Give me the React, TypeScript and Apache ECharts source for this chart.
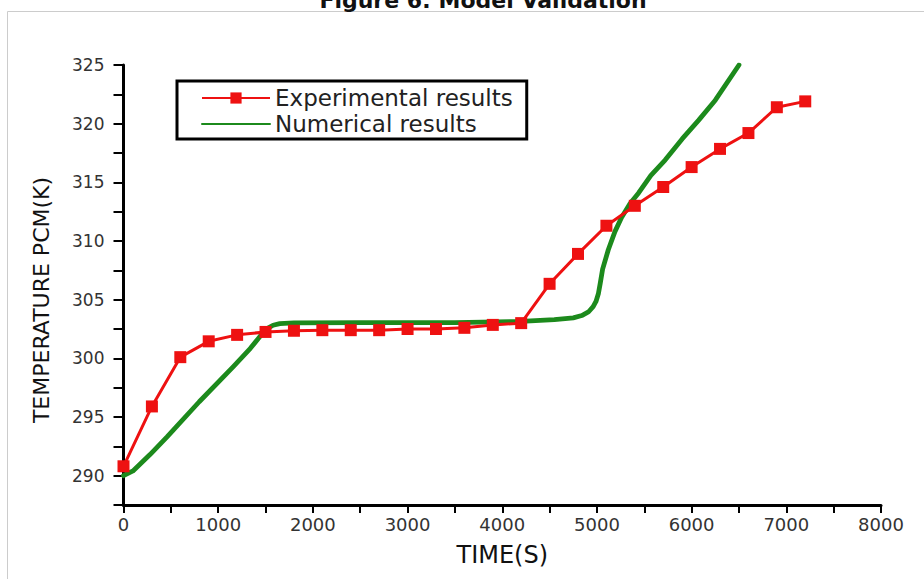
import React, { useEffect, useRef } from "react";
import * as echarts from "echarts";

const TITLE = "Figure 6: Model Validation";
const X_NAME = "TIME(S)";
const Y_NAME = "TEMPERATURE PCM(K)";
const SERIES_NAMES = ["Experimental results", "Numerical results"];

const xLabelValues = [0, 1000, 2000, 3000, 4000, 5000, 6000, 7000, 8000];
const yLabelValues = [290, 295, 300, 305, 310, 315, 320, 325];

const expTime = [0, 300, 600, 900, 1200, 1500, 1800, 2100, 2400, 2700, 3000, 3300, 3600, 3900, 4200, 4500, 4800, 5100, 5400, 5700, 6000, 6300, 6600, 6900, 7200];
const expTemp = [290.8, 295.9, 300.1, 301.45, 302.0, 302.25, 302.35, 302.4, 302.4, 302.4, 302.5, 302.5, 302.6, 302.85, 303.0, 306.35, 308.9, 311.3, 313.0, 314.6, 316.3, 317.85, 319.2, 321.4, 321.9];

const numTime = [0, 100, 280, 460, 800, 1160, 1340, 1420, 1470, 1520, 1580, 1650, 1800, 2500, 3500, 4200, 4550, 4750, 4840, 4910, 4960, 4990, 5015, 5035, 5060, 5120, 5190, 5260, 5350, 5440, 5570, 5720, 5900, 6075, 6250, 6500];
const numTemp = [290.0, 290.4, 291.8, 293.3, 296.3, 299.3, 300.85, 301.65, 302.15, 302.55, 302.82, 302.96, 303.03, 303.05, 303.05, 303.15, 303.3, 303.45, 303.65, 303.95, 304.4, 304.85, 305.5, 306.4, 307.6, 309.25, 310.8, 312.0, 313.2, 314.1, 315.6, 316.9, 318.7, 320.3, 322.0, 325.0];

const FONT = "DejaVu Sans";

export default function App() {
  const ref = useRef<HTMLDivElement>(null);
  useEffect(() => {
    if (!ref.current) return;
    const chart = echarts.init(ref.current, null, { renderer: "svg" });
    chart.setOption({
      animation: false,
      backgroundColor: "#ffffff",
      graphic: [
        {
          type: "rect",
          shape: { x: 7.5, y: 11.5, width: 940, height: 600 },
          style: { fill: "none", stroke: "#cccccc", lineWidth: 1 },
          silent: true,
        },
        {
          type: "text",
          x: 483,
          y: 11,
          style: {
            text: TITLE,
            font: `bold 22px "${FONT}"`,
            fill: "#111111",
            textAlign: "center",
            textVerticalAlign: "bottom",
          },
          silent: true,
        },
      ],
      legend: {
        orient: "vertical",
        left: 177,
        top: 81,
        padding: [5, 14, 3, 24],
        itemGap: 2,
        itemWidth: 68,
        itemHeight: 14,
        borderColor: "#000000",
        borderWidth: 3,
        backgroundColor: "#ffffff",
        textStyle: { fontFamily: FONT, fontSize: 23, color: "#222222", lineHeight: 24 },
        data: [
          { name: SERIES_NAMES[0] },
          { name: SERIES_NAMES[1], itemStyle: { opacity: 0 } },
        ],
      },
      grid: { left: 123.5, right: 43, top: 65, bottom: 74, containLabel: false },
      xAxis: {
        type: "value",
        min: 0,
        max: 8000,
        interval: 500,
        name: X_NAME,
        nameLocation: "middle",
        nameGap: 38,
        nameTextStyle: { fontFamily: FONT, fontSize: 24, color: "#111111" },
        axisLine: { show: true, onZero: false, lineStyle: { color: "#000000", width: 3 } },
        axisTick: { show: true, length: 8, lineStyle: { color: "#000000", width: 2 } },
        axisLabel: {
          formatter: (v: number) => (xLabelValues.includes(v) ? String(v) : ""),
          fontFamily: FONT,
          fontSize: 18,
          color: "#333333",
          margin: 10,
        },
        splitLine: { show: false },
      },
      yAxis: {
        type: "value",
        min: 287.5,
        max: 325,
        interval: 2.5,
        name: Y_NAME,
        nameLocation: "middle",
        nameGap: 71,
        nameTextStyle: { fontFamily: FONT, fontSize: 22, color: "#111111", padding: [0, 30, 0, 0] },
        axisLine: { show: true, onZero: false, lineStyle: { color: "#000000", width: 3 } },
        axisTick: { show: true, length: 10, lineStyle: { color: "#000000", width: 2 } },
        axisLabel: {
          formatter: (v: number) => (yLabelValues.includes(Math.round(v * 100) / 100) ? String(v) : ""),
          fontFamily: FONT,
          fontSize: 17,
          color: "#333333",
          margin: 19,
        },
        splitLine: { show: false },
      },
      series: [
        {
          name: SERIES_NAMES[0],
          type: "line",
          z: 3,
          data: expTime.map((t, i) => [t, expTemp[i]]),
          symbol: "rect",
          symbolSize: 12,
          lineStyle: { color: "#ee1111", width: 3 },
          itemStyle: { color: "#ee1111" },
        },
        {
          name: SERIES_NAMES[1],
          type: "line",
          z: 2,
          data: numTime.map((t, i) => [t, numTemp[i]]),
          showSymbol: false,
          symbol: "none",
          lineStyle: { color: "#1c8a1c", width: 4.8, join: "round", cap: "round" },
          itemStyle: { color: "#1c8a1c" },
        },
      ],
    });
    return () => chart.dispose();
  }, []);
  return (
    <div
      ref={ref}
      style={{ position: "fixed", left: 0, top: 0, width: 924, height: 579 }}
    />
  );
}
